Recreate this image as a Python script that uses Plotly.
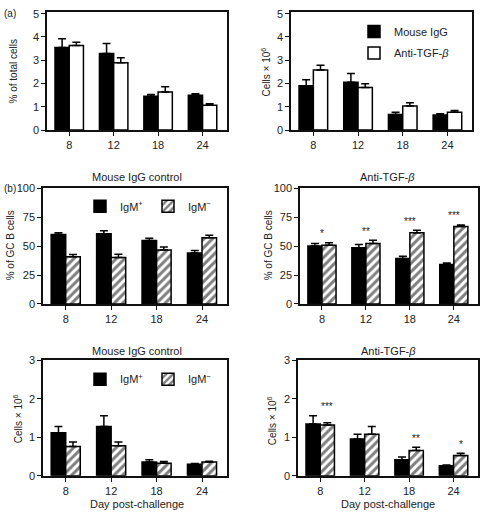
import plotly.graph_objects as go

# ---------------- data ----------------
days = ["8", "12", "18", "24"]

pct_total_igg = [3.55, 3.29, 1.45, 1.50]
pct_total_igg_err = [0.37, 0.43, 0.08, 0.06]
pct_total_anti = [3.63, 2.89, 1.64, 1.07]
pct_total_anti_err = [0.14, 0.22, 0.22, 0.06]

cells_igg = [1.90, 2.05, 0.67, 0.65]
cells_igg_err = [0.26, 0.38, 0.10, 0.05]
cells_anti = [2.58, 1.83, 1.03, 0.77]
cells_anti_err = [0.20, 0.16, 0.14, 0.07]

gc_ctrl_pos = [60.1, 60.7, 54.8, 44.1]
gc_ctrl_pos_err = [1.4, 2.5, 1.9, 2.0]
gc_ctrl_neg = [40.7, 40.2, 46.6, 57.3]
gc_ctrl_neg_err = [2.0, 2.8, 2.6, 2.0]

gc_anti_pos = [50.0, 48.6, 39.3, 34.0]
gc_anti_pos_err = [2.2, 2.8, 2.0, 1.4]
gc_anti_neg = [50.8, 52.2, 61.5, 66.9]
gc_anti_neg_err = [2.0, 2.8, 2.3, 1.4]

num_ctrl_pos = [1.12, 1.28, 0.36, 0.30]
num_ctrl_pos_err = [0.16, 0.28, 0.06, 0.02]
num_ctrl_neg = [0.76, 0.78, 0.33, 0.36]
num_ctrl_neg_err = [0.12, 0.10, 0.04, 0.02]

num_anti_pos = [1.35, 0.96, 0.42, 0.26]
num_anti_pos_err = [0.21, 0.12, 0.07, 0.02]
num_anti_neg = [1.32, 1.08, 0.66, 0.53]
num_anti_neg_err = [0.06, 0.20, 0.08, 0.06]

gc_anti_sig = ["*", "**", "***", "***"]
num_anti_sig = ["***", "", "**", "*"]

# ---------------- layout helpers ----------------
W, H = 480, 517
FONT = "Liberation Sans, Arial, sans-serif"
TXT = "#222"
BARGAP = 0.36


def px(x):
    return x / W


def py(y):
    return 1 - y / H


xs = list(range(len(days)))

fig = go.Figure()

solid = dict(color="black", line=dict(color="black", width=1.5))
white = dict(color="white", line=dict(color="black", width=1.5))
hatch = dict(color="white", line=dict(color="black", width=1.5),
             pattern=dict(shape="/", fgcolor="black", bgcolor="white", size=6, solidity=0.5))


def err(a):
    return dict(type="data", array=a, arrayminus=[0] * len(a), symmetric=False,
                color="black", thickness=1.5, width=4)


def add_pair(n, y1, e1, y2, e2, name1, name2, m2, leg1=None, leg2=None):
    sfx = "" if n == 1 else str(n)
    fig.add_trace(go.Bar(x=xs, y=y1, error_y=err(e1), marker=solid, name=name1,
                         xaxis="x" + sfx, yaxis="y" + sfx,
                         showlegend=leg1 is not None, legend=leg1 or "legend"))
    fig.add_trace(go.Bar(x=xs, y=y2, error_y=err(e2), marker=m2, name=name2,
                         xaxis="x" + sfx, yaxis="y" + sfx,
                         showlegend=leg2 is not None, legend=leg2 or "legend"))


add_pair(1, pct_total_igg, pct_total_igg_err, pct_total_anti, pct_total_anti_err,
         "Mouse IgG", "Anti-TGF-<i>β</i>", white)
add_pair(2, cells_igg, cells_igg_err, cells_anti, cells_anti_err,
         "Mouse IgG", "Anti-TGF-<i>β</i>", white, "legend", "legend2")
add_pair(3, gc_ctrl_pos, gc_ctrl_pos_err, gc_ctrl_neg, gc_ctrl_neg_err,
         "IgM<sup>+</sup>", "IgM<sup>−</sup>", hatch, "legend3", "legend4")
add_pair(4, gc_anti_pos, gc_anti_pos_err, gc_anti_neg, gc_anti_neg_err,
         "IgM<sup>+</sup>", "IgM<sup>−</sup>", hatch)
add_pair(5, num_ctrl_pos, num_ctrl_pos_err, num_ctrl_neg, num_ctrl_neg_err,
         "IgM<sup>+</sup>", "IgM<sup>−</sup>", hatch, "legend5", "legend6")
add_pair(6, num_anti_pos, num_anti_pos_err, num_anti_neg, num_anti_neg_err,
         "IgM<sup>+</sup>", "IgM<sup>−</sup>", hatch)

# panel geometry in pixels: (left, right, top, bottom, ymax, dtick)
panels = {
    1: (47, 227, 6, 127, 5.08, 1),
    2: (291, 472, 6, 127, 5.08, 1),
    3: (43, 227, 186, 305, 100.5, 25),
    4: (300, 478, 186, 305, 100.5, 25),
    5: (43, 227, 362, 481, 3.02, 1),
    6: (298, 478, 362, 481, 3.02, 1),
}

axis_common = dict(showline=True, linecolor="#111", linewidth=1.5, mirror=True,
                   ticks="outside", ticklen=4, tickwidth=1.2, tickcolor="#111",
                   showgrid=False, zeroline=False,
                   tickfont=dict(family=FONT, size=11, color=TXT))

layout = dict(width=W, height=H, margin=dict(l=0, r=0, t=0, b=0),
              paper_bgcolor="white", plot_bgcolor="white",
              barmode="group", bargap=BARGAP, bargroupgap=0.0,
              font=dict(family=FONT, size=10, color=TXT))

for n, (l, r, t, b, ymax, dt) in panels.items():
    sfx = "" if n == 1 else str(n)
    layout["xaxis" + sfx] = dict(axis_common, domain=[px(l), px(r)], range=[-0.5, 3.55],
                                 tickvals=xs, ticktext=days, anchor="y" + sfx)
    layout["yaxis" + sfx] = dict(axis_common, domain=[py(b), py(t)], range=[0, ymax],
                                 dtick=dt, tick0=0, anchor="x" + sfx)

# legends, one item each
leg_font = dict(family=FONT, size=11, color=TXT)
leg_pos = {
    "legend": (354, 26),
    "legend2": (354, 48),
    "legend3": (80, 205),
    "legend4": (148, 205),
    "legend5": (80, 382),
    "legend6": (148, 382),
}
for k, (x, y) in leg_pos.items():
    layout[k] = dict(x=px(x), y=py(y), xanchor="left", yanchor="middle",
                     bgcolor="rgba(0,0,0,0)", borderwidth=0, font=leg_font,
                     orientation="v")

fig.update_layout(**layout)

# annotations: labels
ann = []


def text(x, y, s, size=11, angle=None, xanchor="center"):
    a = dict(x=px(x), y=py(y), xref="paper", yref="paper", text=s, showarrow=False,
             font=dict(family=FONT, size=size, color=TXT),
             xanchor=xanchor, yanchor="middle")
    if angle is not None:
        a["textangle"] = angle
    ann.append(a)


text(2, 8, "(a)", 10, xanchor="left")
text(2, 187, "(b)", 10, xanchor="left")
text(137, 175, "Mouse IgG control")
text(387, 175, "Anti-TGF-<i>β</i>")
text(137, 353, "Mouse IgG control")
text(388, 353, "Anti-TGF-<i>β</i>")
text(137, 510, "Day post-challenge")
text(388, 510, "Day post-challenge")
text(13, 67, "% of total cells", 10, -90)
text(266, 68, "Cells × 10<sup>6</sup>", 10, -90)
text(10, 245, "% of GC B cells", 10, -90)
text(268, 245, "% of GC B cells", 10, -90)
text(18, 423, "Cells × 10<sup>6</sup>", 10, -90)
text(272, 425, "Cells × 10<sup>6</sup>", 10, -90)

# significance stars
off = (1 - BARGAP) / 4
for i, s in enumerate(gc_anti_sig):
    if s:
        top = max(gc_anti_pos[i] + gc_anti_pos_err[i], gc_anti_neg[i] + gc_anti_neg_err[i])
        ann.append(dict(x=xs[i], y=top, xref="x4", yref="y4", text=s, showarrow=False,
                        yanchor="middle", yshift=9, font=dict(family=FONT, size=10, color=TXT)))
for i, s in enumerate(num_anti_sig):
    if s:
        top = max(num_anti_pos[i] + num_anti_pos_err[i], num_anti_neg[i] + num_anti_neg_err[i])
        ann.append(dict(x=xs[i] + off, y=top, xref="x6", yref="y6", text=s, showarrow=False,
                        yanchor="middle", yshift=9, font=dict(family=FONT, size=10, color=TXT)))

fig.update_layout(annotations=ann)
fig.write_html("out.html", config={"displayModeBar": False},
               post_script="document.body.style.margin='0';")
